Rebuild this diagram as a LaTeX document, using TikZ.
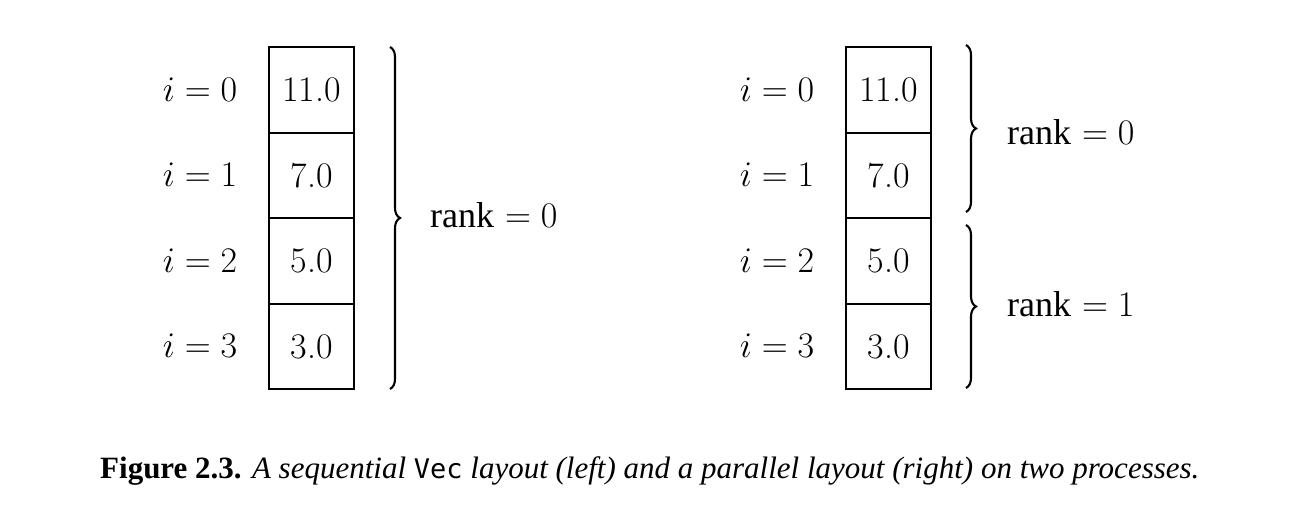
\RequirePackage{fix-cm}
\documentclass[tikz,border=0pt]{standalone}
\usepackage[no-math]{fontspec}
\newfontfamily\timesfont{Liberation Serif}
\newfontfamily\vecfont{DejaVu Sans Mono}
\usetikzlibrary{decorations.pathreplacing}
\begin{document}
\begin{tikzpicture}[x=1pt,y=-1pt,
 cell/.style={draw,line width=2.2pt,minimum width=85pt,minimum height=85.5pt,inner sep=0pt,font=\fontsize{36}{40}\selectfont},
 idx/.style={inner sep=0pt,anchor=base,font=\fontsize{36}{40}\selectfont},
 ranklab/.style={inner sep=0pt,anchor=base west,font=\fontsize{36}{40}\selectfont},
 bracestyle/.style={decorate,decoration={brace,amplitude=10pt},line width=2.1pt},
 capstyle/.style={inner sep=0pt,anchor=base west,font=\fontsize{31}{36}\selectfont}]
\useasboundingbox (0,0) rectangle (1289,527);
% left
\node[cell] (l0) at (311.5,90) {11.0};
\node[cell] (l1) at (311.5,175.5) {7.0};
\node[cell] (l2) at (311.5,261) {5.0};
\node[cell] (l3) at (311.5,346.5) {3.0};
\node[idx] (li0) at (200,101) {$i=0$};
\node[idx] (li1) at (200,186.5) {$i=1$};
\node[idx] (li2) at (200,272) {$i=2$};
\node[idx] (li3) at (200,357.5) {$i=3$};
\coordinate (lbt) at (390,47);
\coordinate (lbb) at (390,389);
\draw[bracestyle] (lbt) -- (lbb);
\node[ranklab] (lr) at (430,227) {{\timesfont rank} $=0$};
% right
\node[cell] (r0) at (888.5,90) {11.0};
\node[cell] (r1) at (888.5,175.5) {7.0};
\node[cell] (r2) at (888.5,261) {5.0};
\node[cell] (r3) at (888.5,346.5) {3.0};
\node[idx] (ri0) at (777,101) {$i=0$};
\node[idx] (ri1) at (777,186.5) {$i=1$};
\node[idx] (ri2) at (777,272) {$i=2$};
\node[idx] (ri3) at (777,357.5) {$i=3$};
\coordinate (rbt0) at (966,45);
\coordinate (rbb0) at (966,212);
\coordinate (rbt1) at (966,225);
\coordinate (rbb1) at (966,388);
\draw[bracestyle] (rbt0) -- (rbb0);
\draw[bracestyle] (rbt1) -- (rbb1);
\node[ranklab] (rr0) at (1007,144) {{\timesfont rank} $=0$};
\node[ranklab] (rr1) at (1007,316) {{\timesfont rank} $=1$};
% caption
\node[capstyle] (cap) at (100,478) {\timesfont\textbf{Figure 2.3.} \itshape A sequential {\upshape\vecfont\fontsize{27}{36}\selectfont Vec} layout (left) and a parallel layout (right) on two processes.};
\end{tikzpicture}
\end{document}
